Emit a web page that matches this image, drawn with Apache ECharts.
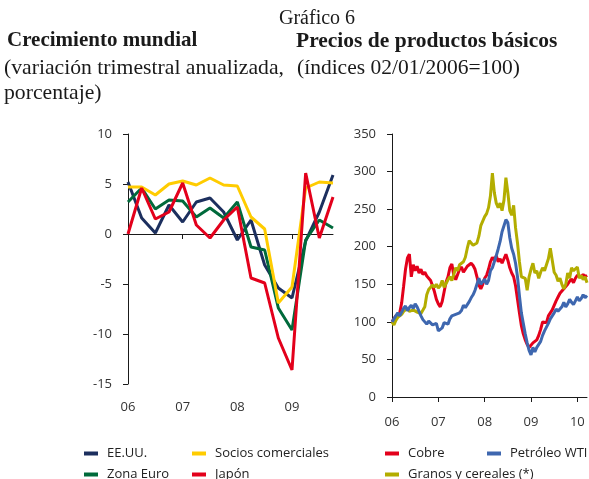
<!DOCTYPE html>
<html>
<head>
<meta charset="utf-8">
<script src="https://cdn.jsdelivr.net/npm/echarts@6/dist/echarts.min.js"></script>
<style>
  html, body { margin: 0; padding: 0; background: #fff; }
  #main { width: 589px; height: 479px; }
</style>
</head>
<body>
<div id="main"></div>
<script>
// Crecimiento mundial: trimestres 2006T1 - 2009T4
const trimestres = ['06T1', '06T2', '06T3', '06T4', '07T1', '07T2', '07T3', '07T4',
  '08T1', '08T2', '08T3', '08T4', '09T1', '09T2', '09T3', '09T4']
const eeuu = [5.2, 1.6, 0.1, 2.9, 1.2, 3.2, 3.6, 2.2, -0.6, 1.4, -3.1, -5.4, -6.4, -0.7, 2.2, 5.9]
const zonaEuro = [3.2, 4.6, 2.5, 3.4, 3.3, 1.7, 2.6, 1.6, 3.2, -1.3, -1.6, -7.4, -9.6, -0.6, 1.4, 0.6]
const socios = [4.7, 4.7, 3.9, 5.0, 5.3, 4.9, 5.6, 4.9, 4.8, 1.7, 0.5, -6.9, -5.3, 4.6, 5.2, 5.1]
const japon = [0.0, 4.6, 1.5, 2.2, 5.1, 0.9, -0.4, 1.4, 2.7, -4.4, -4.9, -10.4, -13.6, 6.1, -0.4, 3.7]

// Precios de productos básicos: dos observaciones por mes, ene-2006 a mar-2010
const cobre = [100, 104, 108, 110, 112, 125, 147, 170, 185, 190, 160, 176, 168, 174, 165, 170,
  163, 166, 161, 163, 155, 148, 140, 130, 124, 120, 127, 140, 153, 160, 172, 177,
  162, 156, 163, 170, 173, 166, 170, 174, 172, 178, 175, 170, 160, 149, 144, 150,
  158, 162, 170, 180, 186, 182, 188, 180, 184, 178, 184, 190, 182, 172, 165, 160,
  148, 130, 112, 95, 84, 76, 70, 66, 68, 72, 70, 76, 82, 90, 100, 102,
  99, 108, 112, 116, 122, 128, 133, 138, 138, 144, 146, 150, 154, 157, 152, 158,
  162, 164, 160, 163, 160, 162]
const petroleo = [100, 104, 108, 112, 108, 113, 118, 121, 115, 119, 122, 118, 124, 120, 118, 108,
  103, 100, 97, 101, 99, 96, 95, 98, 88, 86, 92, 99, 100, 97, 104, 108,
  106, 110, 108, 112, 115, 122, 119, 118, 127, 132, 136, 142, 150, 158, 150, 152,
  157, 150, 155, 168, 172, 180, 188, 197, 207, 220, 228, 236, 232, 212, 198, 190,
  178, 160, 135, 112, 98, 84, 72, 62, 56, 66, 60, 66, 68, 74, 82, 88,
  90, 98, 104, 108, 112, 117, 114, 112, 120, 126, 120, 124, 130, 126, 123, 128,
  133, 128, 131, 136, 132, 135]
const granos = [100, 96, 102, 106, 108, 110, 114, 116, 118, 114, 113, 116, 114, 113, 115, 111,
  110, 120, 136, 143, 146, 149, 146, 150, 145, 148, 155, 146, 148, 156, 160, 155,
  163, 172, 168, 176, 174, 180, 186, 198, 208, 210, 202, 200, 205, 214, 228, 234,
  240, 244, 252, 268, 298, 272, 258, 252, 258, 248, 262, 292, 272, 248, 242, 255,
  225, 205, 180, 160, 162, 158, 142, 160, 170, 178, 165, 168, 158, 166, 172, 168,
  176, 184, 198, 182, 166, 162, 154, 158, 150, 144, 150, 165, 158, 172, 168, 166,
  173, 158, 162, 156, 160, 152]

const etiquetasAnio = ['06', '07', '08', '09', '10']

const fechas = []
for (let a = 2006; a <= 2010; a++) {
  for (let m = 1; m <= 12; m++) {
    for (const q of ['a', 'b']) {
      if (fechas.length < cobre.length) fechas.push(a + '-' + String(m).padStart(2, '0') + '-' + q)
    }
  }
}

const serif = 'Liberation Serif'
const sans = 'Open Sans'
const negro = '#1a1a1a'

const myChart = echarts.init(document.getElementById('main'), null, { renderer: 'canvas' })

const ejeLinea = { show: true, lineStyle: { color: '#1a1a1a', width: 1 } }
const etiqueta = { color: '#333', fontFamily: sans, fontSize: 13 }

function leyenda (nombre, left, top) {
  return {
    data: [nombre],
    left: left,
    top: top,
    padding: 0,
    icon: 'rect',
    itemWidth: 14,
    itemHeight: 4,
    selectedMode: false,
    textStyle: { color: '#222', fontFamily: sans, fontSize: 13, padding: [0, 0, 0, 4] }
  }
}

myChart.setOption({
  animation: false,
  title: [
    { text: 'Gráfico 6', left: 279, top: 9, padding: 0,
      textStyle: { fontFamily: serif, fontSize: 20, fontWeight: 'normal', color: negro } },
    { text: 'Crecimiento mundial', left: 7, top: 30, padding: 0,
      textStyle: { fontFamily: serif, fontSize: 21, fontWeight: 'bold', color: negro } },
    { text: '(variación trimestral anualizada,\nporcentaje)', left: 4, top: 56, padding: 0,
      textStyle: { fontFamily: serif, fontSize: 21.7, fontWeight: 'normal', color: negro, lineHeight: 25 } },
    { text: 'Precios de productos básicos', left: 296, top: 30, padding: 0,
      textStyle: { fontFamily: serif, fontSize: 21.5, fontWeight: 'bold', color: negro } },
    { text: '(índices 02/01/2006=100)', left: 297, top: 56, padding: 0,
      textStyle: { fontFamily: serif, fontSize: 21.5, fontWeight: 'normal', color: negro, lineHeight: 25 } }
  ],
  legend: [
    leyenda('EE.UU.', 84, 447),
    leyenda('Zona Euro', 84, 468),
    leyenda('Socios comerciales', 192, 447),
    leyenda('Japón', 192, 468),
    leyenda('Cobre', 385, 447),
    leyenda('Granos y cereales (*)', 385, 468),
    leyenda('Petróleo WTI', 487, 447)
  ],
  grid: [
    { left: 128, top: 134, width: 205, height: 250 },
    { left: 392, top: 134, width: 195, height: 263 }
  ],
  xAxis: [
    {
      gridIndex: 0,
      type: 'category',
      data: trimestres,
      boundaryGap: false,
      axisLine: { show: true, onZero: true, lineStyle: { color: '#1a1a1a', width: 1 } },
      axisTick: { show: true, interval: 3, length: 5, lineStyle: { color: '#1a1a1a' } },
      axisLabel: { show: false }
    },
    {
      gridIndex: 0,
      type: 'category',
      data: trimestres,
      boundaryGap: false,
      position: 'bottom',
      axisLine: { show: false, onZero: false },
      axisTick: { show: false },
      axisLabel: Object.assign({
        interval: 3,
        margin: 17,
        formatter: function (val, idx) { return etiquetasAnio[idx / 4] }
      }, etiqueta)
    },
    {
      gridIndex: 1,
      type: 'category',
      data: fechas,
      boundaryGap: false,
      axisLine: ejeLinea,
      axisTick: { show: true, length: 5, interval: function (i) { return i % 24 === 0 }, lineStyle: { color: '#1a1a1a' } },
      axisLabel: Object.assign({
        margin: 19,
        interval: function (i) { return i % 24 === 0 },
        formatter: function (val, idx) { return etiquetasAnio[idx / 24] }
      }, etiqueta)
    }
  ],
  yAxis: [
    {
      gridIndex: 0,
      type: 'value',
      min: -15,
      max: 10,
      interval: 5,
      axisLine: ejeLinea,
      axisTick: { show: true, length: 5, lineStyle: { color: '#1a1a1a' } },
      splitLine: { show: false },
      axisLabel: Object.assign({ margin: 16 }, etiqueta)
    },
    {
      gridIndex: 1,
      type: 'value',
      min: 0,
      max: 350,
      interval: 50,
      axisLine: ejeLinea,
      axisTick: { show: true, length: 5, lineStyle: { color: '#1a1a1a' } },
      splitLine: { show: false },
      axisLabel: Object.assign({ margin: 16 }, etiqueta)
    }
  ],
  series: [
    { name: 'EE.UU.', type: 'line', xAxisIndex: 0, yAxisIndex: 0, data: eeuu,
      showSymbol: false, color: '#1c2f5e', lineStyle: { width: 3 } },
    { name: 'Zona Euro', type: 'line', xAxisIndex: 0, yAxisIndex: 0, data: zonaEuro,
      showSymbol: false, color: '#006a3b', lineStyle: { width: 3 } },
    { name: 'Socios comerciales', type: 'line', xAxisIndex: 0, yAxisIndex: 0, data: socios,
      showSymbol: false, color: '#ffcc00', lineStyle: { width: 3 } },
    { name: 'Japón', type: 'line', xAxisIndex: 0, yAxisIndex: 0, data: japon,
      showSymbol: false, color: '#e3001b', lineStyle: { width: 3 } },
    { name: 'Cobre', type: 'line', xAxisIndex: 2, yAxisIndex: 1, data: cobre,
      showSymbol: false, color: '#e3001b', lineStyle: { width: 3 } },
    { name: 'Granos y cereales (*)', type: 'line', xAxisIndex: 2, yAxisIndex: 1, data: granos,
      showSymbol: false, color: '#b3ad00', lineStyle: { width: 3 } },
    { name: 'Petróleo WTI', type: 'line', xAxisIndex: 2, yAxisIndex: 1, data: petroleo,
      showSymbol: false, color: '#3e67af', lineStyle: { width: 3 } }
  ]
})
</script>
</body>
</html>
